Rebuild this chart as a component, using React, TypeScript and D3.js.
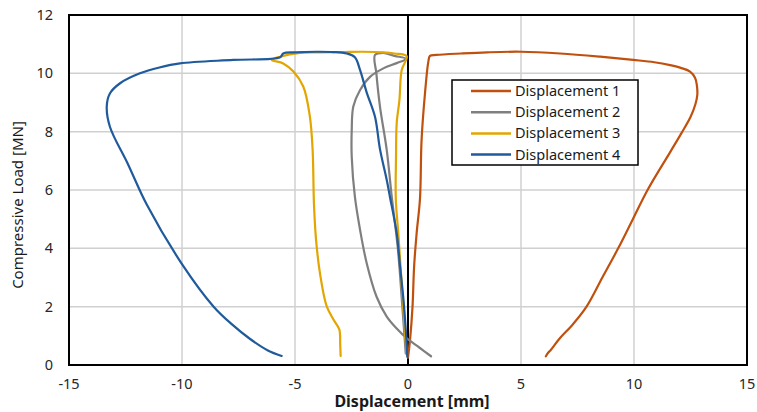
import React, { useEffect, useRef } from 'react';
import * as d3 from 'd3';

type Pt = [number, number];

// Displacement [mm], Compressive Load [MN]
const disp1: Pt[] = [
  [0.0, 0.25], [0.09, 0.86], [0.2, 2.0], [0.27, 3.37], [0.38, 4.5], [0.53, 5.7], [0.6, 7.7],
  [0.75, 9.3], [0.9, 10.4], [0.97, 10.6], [1.25, 10.63], [2.35, 10.68], [3.5, 10.72], [5.0, 10.74],
  [6.73, 10.68], [8.5, 10.57], [9.96, 10.46], [10.9, 10.38], [11.6, 10.28], [12.1, 10.18],
  [12.48, 10.06], [12.7, 9.85], [12.78, 9.6], [12.8, 9.25], [12.72, 8.95], [12.5, 8.5],
  [12.1, 7.95], [11.6, 7.3], [10.6, 6.0], [9.95, 5.0], [9.3, 4.0], [8.6, 3.0], [7.9, 2.0],
  [7.3, 1.4], [6.7, 0.9], [6.3, 0.5], [6.2, 0.42], [6.1, 0.3],
];

const disp2: Pt[] = [
  [-0.1, 0.4], [-0.25, 2.0], [-0.45, 4.0], [-0.72, 5.77], [-0.94, 7.37], [-1.24, 8.86],
  [-1.4, 10.0], [-1.46, 10.63], [-1.1, 10.7], [-0.6, 10.6], [-0.08, 10.5], [-0.5, 10.35],
  [-1.09, 10.17], [-1.68, 9.88], [-2.12, 9.43], [-2.42, 8.86], [-2.49, 8.06], [-2.49, 7.14],
  [-2.35, 5.77], [-2.12, 4.63], [-1.83, 3.5], [-1.39, 2.34], [-0.94, 1.66], [-0.5, 1.25],
  [-0.06, 0.92], [0.5, 0.6], [1.02, 0.3],
];

const disp3: Pt[] = [
  [-0.05, 0.35], [-0.13, 1.1], [-0.28, 2.8], [-0.43, 4.52], [-0.54, 5.7], [-0.53, 7.14],
  [-0.5, 8.29], [-0.38, 9.08], [-0.28, 10.11], [-0.06, 10.59], [-0.6, 10.68], [-1.09, 10.72],
  [-2.0, 10.74], [-2.86, 10.73], [-4.0, 10.72], [-4.78, 10.7], [-5.66, 10.57], [-6.03, 10.46],
  [-5.52, 10.34], [-5.07, 10.06], [-4.63, 9.54], [-4.34, 8.51], [-4.22, 7.37], [-4.16, 5.5],
  [-4.07, 4.31], [-3.9, 3.17], [-3.6, 2.02], [-3.3, 1.56], [-3.04, 1.22], [-3.0, 0.7],
  [-2.98, 0.31],
];

const disp4: Pt[] = [
  [-0.03, 0.28], [-0.09, 1.1], [-0.2, 2.23], [-0.35, 3.37], [-0.5, 4.52], [-0.8, 5.77],
  [-0.94, 6.34], [-1.24, 7.4], [-1.46, 8.51], [-1.83, 9.35], [-2.12, 10.11], [-2.35, 10.55],
  [-2.71, 10.68], [-3.3, 10.73], [-4.04, 10.74], [-5.0, 10.72], [-5.52, 10.68], [-5.66, 10.55],
  [-7.73, 10.46], [-10.09, 10.34], [-11.0, 10.2], [-11.86, 10.0], [-12.74, 9.66],
  [-13.19, 9.31], [-13.33, 8.86], [-13.19, 8.17], [-12.4, 6.9], [-11.56, 5.5], [-10.0, 3.46],
  [-8.6, 2.0], [-7.8, 1.4], [-7.0, 0.9], [-6.2, 0.5], [-5.59, 0.31],
];

const seriesNames = ['Displacement 1', 'Displacement 2', 'Displacement 3', 'Displacement 4'];
const seriesData = [disp1, disp2, disp3, disp4];
const seriesColors = ['#C0500E', '#7F7F7F', '#E3A600', '#1F5B9C'];

const xTicks = [-15, -10, -5, 0, 5, 10, 15];
const yTicks = [0, 2, 4, 6, 8, 10, 12];

const W = 757;
const H = 412;
const font = '"Noto Sans", "Open Sans", sans-serif';

export default function App() {
  const ref = useRef<SVGSVGElement>(null);

  useEffect(() => {
    if (!ref.current) return;
    const svg = d3.select(ref.current);
    svg.selectAll('*').remove();

    const margin = { top: 15, right: 10, bottom: 47, left: 69 };
    const w = W - margin.left - margin.right;
    const h = H - margin.top - margin.bottom;

    const x = d3.scaleLinear().domain([-15, 15]).range([0, w]);
    const y = d3.scaleLinear().domain([0, 12]).range([h, 0]);

    const g = svg.append('g').attr('transform', `translate(${margin.left},${margin.top})`);

    // grid
    g.selectAll('.gx')
      .data(xTicks.filter(t => t !== -15 && t !== 15 && t !== 0))
      .join('line')
      .attr('x1', d => x(d)).attr('x2', d => x(d))
      .attr('y1', 0).attr('y2', h)
      .attr('stroke', '#D0D0D0').attr('stroke-width', 1.5);
    g.selectAll('.gy')
      .data(yTicks.filter(t => t !== 0 && t !== 12))
      .join('line')
      .attr('x1', 0).attr('x2', w)
      .attr('y1', d => y(d)).attr('y2', d => y(d))
      .attr('stroke', '#D0D0D0').attr('stroke-width', 1.5);

    // zero line
    g.append('line')
      .attr('x1', x(0)).attr('x2', x(0)).attr('y1', 0).attr('y2', h)
      .attr('stroke', '#000').attr('stroke-width', 2);

    // series
    const line = d3.line<Pt>()
      .x(d => x(d[0]))
      .y(d => y(d[1]))
      .curve(d3.curveCatmullRom.alpha(0.5));

    seriesData.forEach((s, i) => {
      g.append('path')
        .attr('d', line(s) || '')
        .attr('fill', 'none')
        .attr('stroke', seriesColors[i])
        .attr('stroke-width', 2.2)
        .attr('stroke-linejoin', 'round')
        .attr('stroke-linecap', 'round');
    });

    // frame
    g.append('rect')
      .attr('x', 0).attr('y', 0).attr('width', w).attr('height', h)
      .attr('fill', 'none').attr('stroke', '#000').attr('stroke-width', 2);

    // tick labels
    g.selectAll('.xt')
      .data(xTicks)
      .join('text')
      .attr('x', d => x(d))
      .attr('y', h + 24)
      .attr('text-anchor', 'middle')
      .style('font-family', font)
      .style('font-size', '14.5px')
      .style('fill', '#262626')
      .text(d => String(d));

    g.selectAll('.yt')
      .data(yTicks)
      .join('text')
      .attr('x', -16)
      .attr('y', d => y(d) + 5)
      .attr('text-anchor', 'end')
      .style('font-family', font)
      .style('font-size', '14.5px')
      .style('fill', '#262626')
      .text(d => String(d));

    // axis titles
    svg.append('text')
      .attr('x', margin.left + x(0) + 4)
      .attr('y', H - 5)
      .attr('text-anchor', 'middle')
      .style('font-family', font)
      .style('font-size', '16px')
      .style('font-weight', 'bold')
      .style('fill', '#1a1a1a')
      .text('Displacement [mm]');

    svg.append('text')
      .attr('transform', `translate(23,205) rotate(-90)`)
      .attr('text-anchor', 'middle')
      .style('font-family', font)
      .style('font-size', '15px')
      .style('fill', '#1a1a1a')
      .text('Compressive Load [MN]');

    // legend
    const lg = svg.append('g').attr('transform', 'translate(452,80)');
    lg.append('rect')
      .attr('width', 186).attr('height', 85)
      .attr('fill', '#fff').attr('stroke', '#000').attr('stroke-width', 1.5);
    seriesNames.forEach((name, i) => {
      const yy = 11 + i * 21.2;
      lg.append('line')
        .attr('x1', 19).attr('x2', 59).attr('y1', yy).attr('y2', yy)
        .attr('stroke', seriesColors[i]).attr('stroke-width', 2.5);
      lg.append('text')
        .attr('x', 63).attr('y', yy + 5)
        .style('font-family', font)
        .style('font-size', '14.5px')
        .style('fill', '#1a1a1a')
        .text(name);
    });
  }, []);

  return (
    <svg
      ref={ref}
      width={W}
      height={H}
      style={{ position: 'absolute', left: 0, top: 0, background: '#fff' }}
    />
  );
}
